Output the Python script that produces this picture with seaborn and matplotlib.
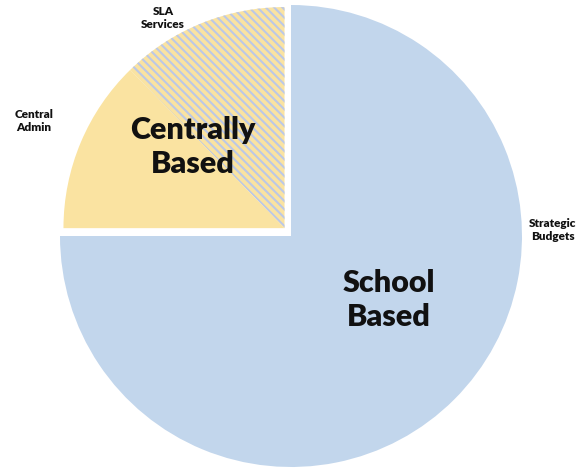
import matplotlib
matplotlib.use("Agg")
import matplotlib.pyplot as plt
import seaborn as sns

categories = ["SLA Services", "Central Admin", "Strategic Budgets"]
values = [12.3, 12.7, 75.0]
small_labels = ["SLA\nServices", "Central\nAdmin", "Strategic\nBudgets"]
group_labels = ["Centrally\nBased", "School\nBased"]

sns.set_theme(style="white")
plt.rcParams["font.family"] = ["Lato", "DejaVu Sans"]
plt.rcParams["hatch.linewidth"] = 1.5

blue = "#C2D6EC"
yellow = "#FAE3A1"
stripe = "#BCC8E6"
plt.rcParams["hatch.color"] = stripe

fig = plt.figure(figsize=(5.87, 4.69), dpi=100)
ax = fig.add_axes([0, 0, 1, 1])

wedges, _ = ax.pie(values, startangle=90, counterclock=True,
                   colors=[yellow, yellow, blue],
                   wedgeprops=dict(linewidth=0))

# hatched SLA slice
wedges[0].set_hatch("\\\\\\\\")
wedges[0].set_edgecolor(stripe)
wedges[0].set_linewidth(0)

# centrally based quarter pulled out together
for w in wedges[:2]:
    w.set_center((-0.028, 0.034))
    w.set_radius(0.957)

ax.set_aspect("auto")
ax.set_xlim(-291 / 231, (587 - 291) / 231)
ax.set_ylim(-(469 - 236) / 231, 236 / 231)
ax.axis("off")

small_pos = [(-0.554, 0.944), (-1.114, 0.498), (1.134, 0.026)]
for (x, y), t in zip(small_pos, small_labels):
    ax.text(x, y, t, ha="center", va="center", fontsize=8.5,
            fontweight="heavy", color="#111111", linespacing=1.15)

group_pos = [(-0.424, 0.385), (0.424, -0.277)]
for (x, y), t in zip(group_pos, group_labels):
    ax.text(x, y, t, ha="center", va="center", fontsize=22,
            fontweight="heavy", color="#111111", linespacing=1.25)

fig.savefig("out.png", dpi=100)
